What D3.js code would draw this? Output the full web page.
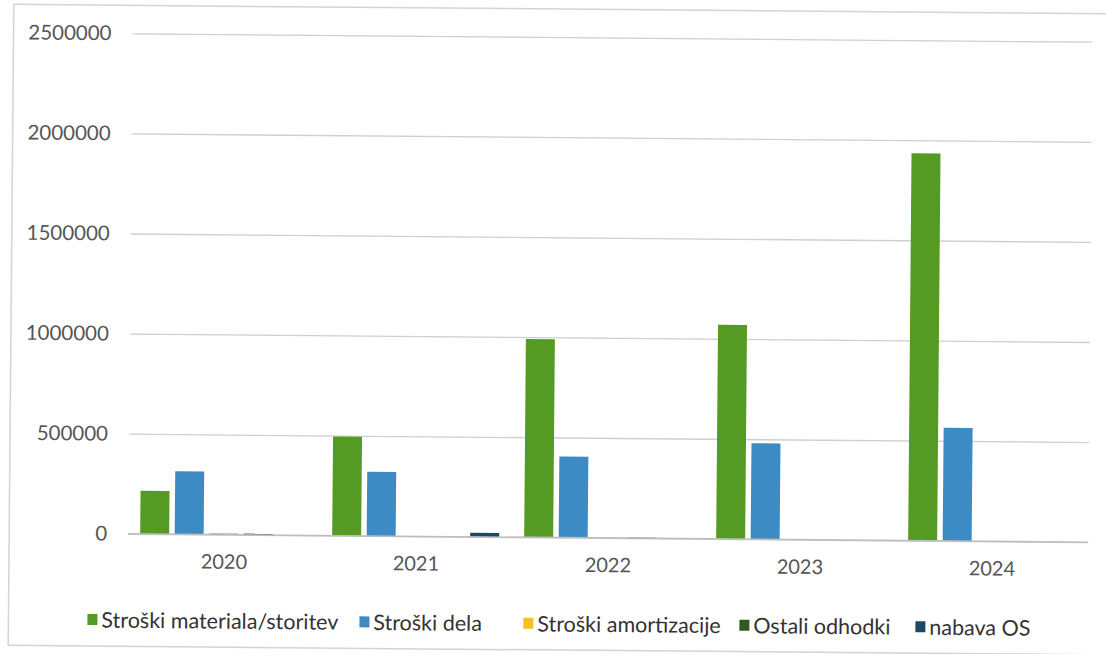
<!DOCTYPE html>
<html>
<head>
<meta charset="utf-8">
<script src="https://cdn.jsdelivr.net/npm/d3@7"></script>
<style>
  html, body { margin: 0; padding: 0; background: #ffffff; }
  svg { display: block; }
  text { font-family: Lato, "Open Sans", sans-serif; }
</style>
</head>
<body>
<svg id="chart" width="1106" height="654"></svg>
<script>
// ---- data ----
const categories = ["2020", "2021", "2022", "2023", "2024"];
const seriesNames = ["Stroški materiala/storitev", "Stroški dela", "Stroški amortizacije", "Ostali odhodki", "nabava OS"];
const materiala = [215000, 495000, 990000, 1070000, 1935000];
const dela = [315000, 320000, 405000, 480000, 565000];
const amortizacija = [8000, 0, 3000, 0, 0];
const ostali = [6000, 0, 3000, 0, 0];
const nabava = [0, 20000, 0, 0, 0];
const yTicks = [0, 500000, 1000000, 1500000, 2000000, 2500000];
const seriesColors = ["#559a22", "#3c8bc4", "#f6c21a", "#2f5a1e", "#1d4866"];

const seriesValues = [materiala, dela, amortizacija, ostali, nabava];
const rows = categories.map((c, i) => ({
  cat: c,
  vals: seriesNames.map((s, j) => ({ key: s, value: seriesValues[j][i], color: seriesColors[j] }))
}));

// ---- layout ----
const svg = d3.select("#chart");
const root = svg.append("g").attr("transform", "rotate(0.5,553,327)");

// faint frame of the scanned chart
root.append("rect")
  .attr("x", 11).attr("y", 9).attr("width", 1120).attr("height", 641)
  .attr("fill", "none").attr("stroke", "#d4d4d4").attr("stroke-width", 1.5);

const plotLeft = 130, plotRight = 1090;
const y = d3.scaleLinear().domain([0, 2500000]).range([537.5, 37]);
const x0 = d3.scaleBand().domain(categories).range([plotLeft, plotRight]);
const x1 = d3.scaleBand().domain(seriesNames).range([12, 179]).paddingInner(0.16);

// gridlines via axis
const grid = root.append("g")
  .attr("transform", `translate(${plotLeft},0)`)
  .call(d3.axisRight(y).tickValues(yTicks).tickSize(plotRight - plotLeft).tickFormat(""));
grid.select(".domain").remove();
grid.selectAll(".tick line").attr("stroke", "#cfcfcf").attr("stroke-width", 1.3);

// y axis labels
const yAxis = root.append("g")
  .attr("transform", `translate(${plotLeft},0)`)
  .call(d3.axisLeft(y).tickValues(yTicks).tickSize(0).tickPadding(21).tickFormat(d3.format("d")));
yAxis.select(".domain").remove();
yAxis.selectAll("text")
  .attr("fill", "#555555")
  .style("font-size", "20.5px")
  .style("font-family", "Lato, sans-serif");

// bars
const groups = root.append("g").selectAll("g")
  .data(rows).join("g")
  .attr("transform", d => `translate(${x0(d.cat)},0)`);

groups.selectAll("rect")
  .data(d => d.vals).join("rect")
  .attr("x", d => x1(d.key))
  .attr("width", x1.bandwidth())
  .attr("y", d => y(d.value))
  .attr("height", d => y(0) - y(d.value))
  .attr("fill", d => d.color);

// baseline
root.append("line")
  .attr("x1", plotLeft).attr("x2", plotRight)
  .attr("y1", y(0)).attr("y2", y(0))
  .attr("stroke", "#bdbdbd").attr("stroke-width", 1.5);

// x axis labels
const xAxis = root.append("g")
  .attr("transform", `translate(0,${y(0)})`)
  .call(d3.axisBottom(x0).tickSize(0).tickPadding(20));
xAxis.select(".domain").remove();
xAxis.selectAll("text")
  .attr("fill", "#555555")
  .style("font-size", "20px")
  .style("font-family", "Lato, sans-serif");

// legend
const legendItems = [
  { name: seriesNames[0], color: seriesColors[0], x: 90 },
  { name: seriesNames[1], color: seriesColors[1], x: 362 },
  { name: seriesNames[2], color: seriesColors[2], x: 526 },
  { name: seriesNames[3], color: seriesColors[3], x: 742 },
  { name: seriesNames[4], color: seriesColors[4], x: 918 }
];
const legend = root.append("g").attr("transform", "translate(0,624)");
const li = legend.selectAll("g").data(legendItems).join("g")
  .attr("transform", d => `translate(${d.x},0)`);
li.append("rect")
  .attr("x", 0).attr("y", -6).attr("width", 10).attr("height", 11)
  .attr("fill", d => d.color);
li.append("text")
  .attr("x", 14).attr("y", 0).attr("dy", "0.35em")
  .attr("fill", "#333333")
  .style("font-size", "21.5px")
  .text(d => d.name);
</script>
</body>
</html>
